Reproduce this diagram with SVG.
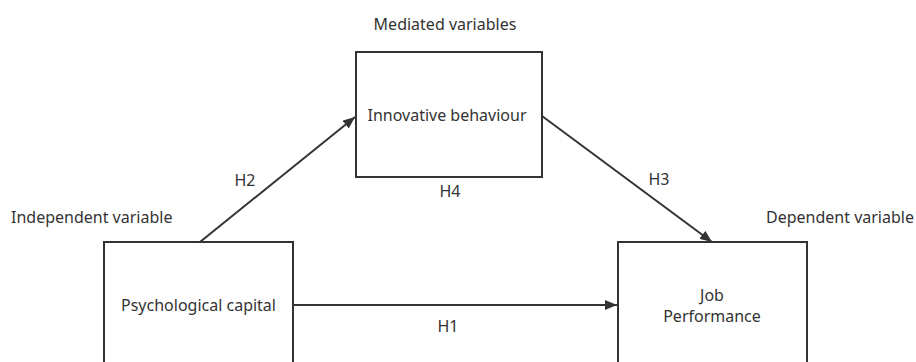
<svg xmlns="http://www.w3.org/2000/svg" width="916" height="362" viewBox="0 0 916 362">
<style>
.box{fill:#fff;stroke:#333;stroke-width:2}
.t{font-family:"Noto Sans","Open Sans",sans-serif;font-size:16px;fill:#333}
.m{text-anchor:middle}
.c{stroke:#333;stroke-width:2;fill:none}
</style>
<defs>
<marker id="ah" viewBox="0 0 12 10" refX="12" refY="5" markerWidth="12" markerHeight="10" markerUnits="userSpaceOnUse" orient="auto">
<path d="M0,0 L12,5 L0,10 Z" fill="#333"/>
</marker>
</defs>
<rect width="916" height="362" fill="#fff"/>
<g id="connectors">
<line class="c" x1="200" y1="242" x2="355" y2="117" marker-end="url(#ah)"/>
<line class="c" x1="542" y1="116" x2="712" y2="242" marker-end="url(#ah)"/>
<line class="c" x1="293" y1="305" x2="617" y2="305" marker-end="url(#ah)"/>
<text class="t m" x="245" y="186">H2</text>
<text class="t m" x="659" y="185">H3</text>
<text class="t m" x="448" y="332">H1</text>
<text class="t m" x="450" y="197">H4</text>
</g>
<g id="innovative">
<rect class="box" x="356" y="52" width="186" height="125"/>
<text class="t m" x="447" y="121">Innovative behaviour</text>
<text class="t m" x="445" y="30">Mediated variables</text>
</g>
<g id="psycap">
<rect class="box" x="104" y="242" width="189" height="130"/>
<text class="t m" x="198.5" y="311">Psychological capital</text>
<text class="t" x="11" y="223">Independent variable</text>
</g>
<g id="jobperf">
<rect class="box" x="618" y="242" width="189" height="130"/>
<text class="t m" x="712" y="301">Job</text>
<text class="t m" x="712" y="322">Performance</text>
<text class="t" x="766" y="223">Dependent variable</text>
</g>
</svg>
